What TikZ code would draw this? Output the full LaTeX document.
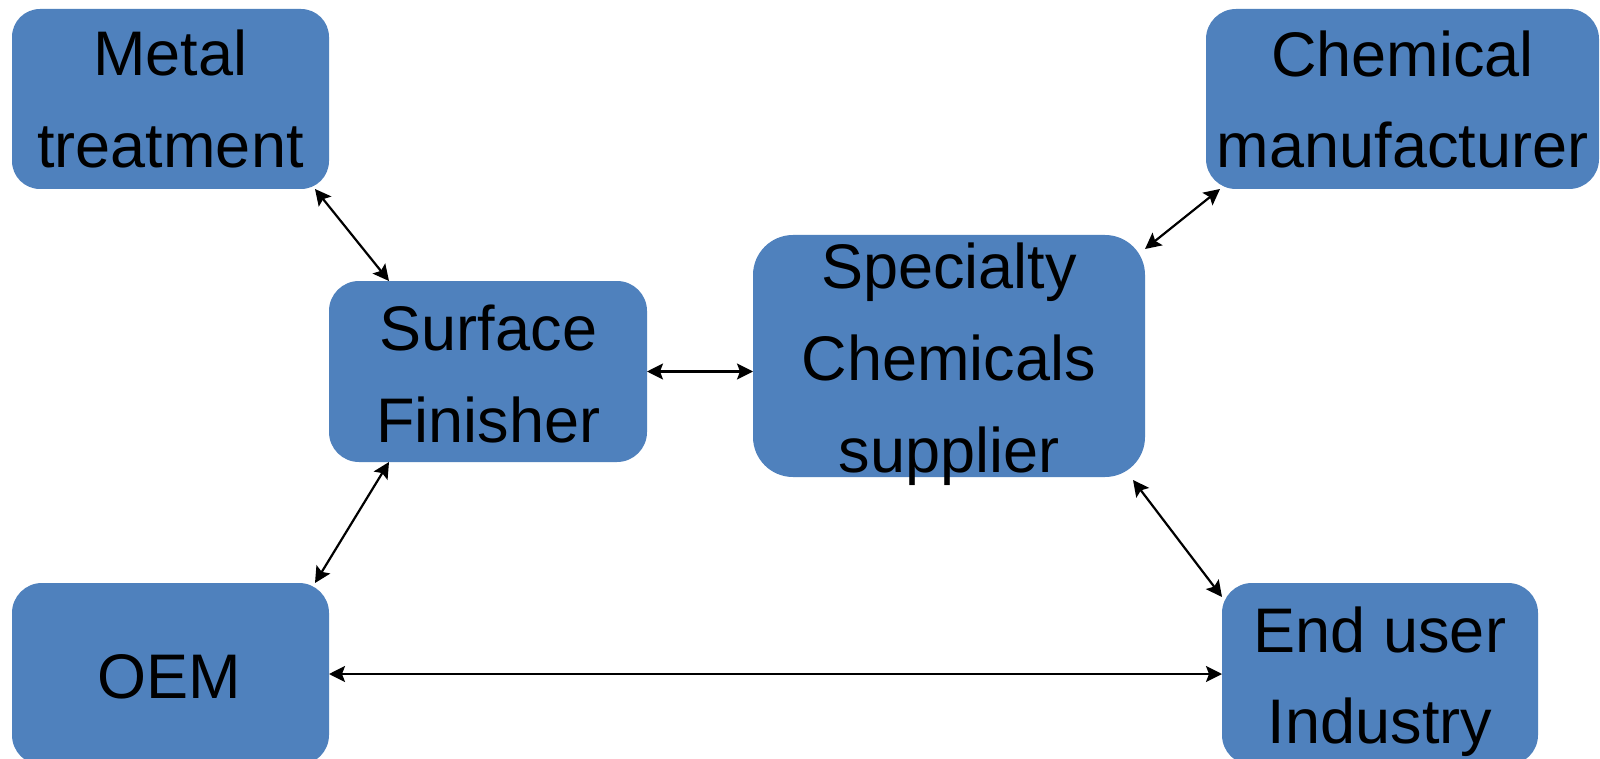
\documentclass[tikz,border=0pt]{standalone}
\usepackage{fontspec}
\setmainfont{Liberation Sans}
\usetikzlibrary{arrows.meta,calc}
\definecolor{boxblue}{HTML}{4F81BD}
\tikzset{
  box/.style={fill=boxblue, inner sep=0pt, outer sep=0pt},
  lbl/.style={font=\fontsize{63}{92}\selectfont, anchor=base, inner sep=0pt, text=black},
  arr/.style={line width=2.2pt, {Stealth[length=16pt,width=16pt,inset=3pt]}-{Stealth[length=16pt,width=16pt,inset=3pt]}}
}
\begin{document}
\begin{tikzpicture}[x=1pt,y=-1pt]
\useasboundingbox (0,0) rectangle (1600,759);
\clip (0,0) rectangle (1600,759);
\fill[white] (0,0) rectangle (1600,759);
% boxes
\node[box, rounded corners=28pt, minimum width=317pt, minimum height=180pt] (mt) at (170.5,99) {};
\node[box, rounded corners=30pt, minimum width=393pt, minimum height=180pt] (cm) at (1402.5,99) {};
\node[box, rounded corners=30pt, minimum width=318pt, minimum height=181pt] (sf) at (488,371.5) {};
\node[box, rounded corners=40pt, minimum width=392pt, minimum height=242pt] (scs) at (949,356) {};
\node[box, rounded corners=30pt, minimum width=317pt, minimum height=182pt] (oem) at (170.5,674) {};
\node[box, rounded corners=30pt, minimum width=316pt, minimum height=182pt] (eu) at (1380,674) {};
% texts
\node[lbl] (mt1) at (170.5,76) {Metal};
\node[lbl] (mt2) at (170.5,168) {treatment};
\node[lbl] (cm1) at (1402.5,77) {Chemical};
\node[lbl] (cm2) at (1402.5,168) {manufacturer};
\node[lbl] (sf1) at (488.5,350) {Surface};
\node[lbl] (sf2) at (488.5,442) {Finisher};
\node[lbl] (scs1) at (949,288) {Specialty};
\node[lbl] (scs2) at (949,380) {Chemicals};
\node[lbl] (scs3) at (949,472) {supplier};
\node[lbl] (oem1) at (169,698) {OEM};
\node[lbl] (eu1) at (1380,652) {End user};
\node[lbl] (eu2) at (1380,743) {Industry};
% connectors
\draw[arr] ([xshift=-14pt]mt.south east) -- ([xshift=60pt]sf.north west);
\draw[arr] ([xshift=60pt]sf.south west) -- ([xshift=-14pt]oem.north east);
\draw[arr] (sf.east) -- (scs.west |- sf.east);
\draw[arr] ([xshift=14pt]cm.south west) -- ([yshift=-14pt]scs.north east);
\draw[arr] ([xshift=-12pt,yshift=-3pt]scs.south east) -- ([yshift=-14pt]eu.north west);
\draw[arr] (oem.east) -- (eu.west |- oem.east);
\end{tikzpicture}
\end{document}
